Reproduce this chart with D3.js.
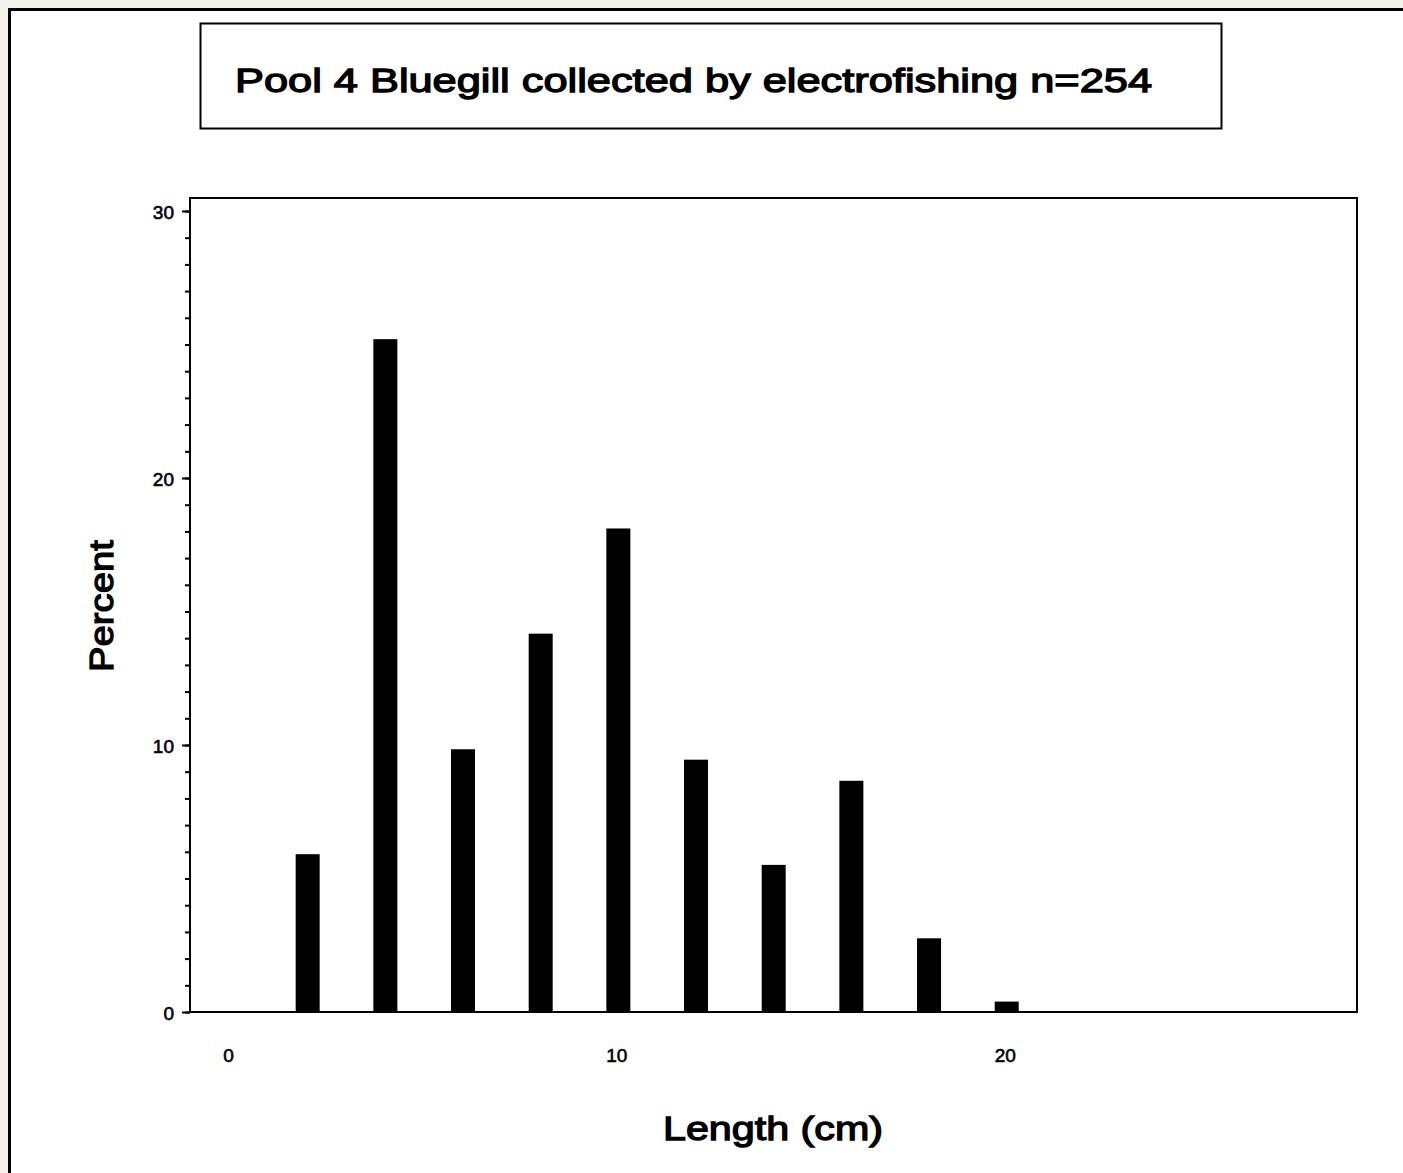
<!DOCTYPE html>
<html>
<head>
<meta charset="utf-8">
<script src="https://cdn.jsdelivr.net/npm/d3@7"></script>
<style>
  html, body { margin: 0; padding: 0; background: #f5f1eb; }
  svg { display: block; }
  text { font-family: "Liberation Sans", Arial, sans-serif; fill: #000; }
</style>
</head>
<body>
<script>
// Length-frequency of bluegill (percent of n=254) by 2-cm class midpoint
const lengthClasses = [2, 4, 6, 8, 10, 12, 14, 16, 18, 20];
const percentValues = [5.91, 25.20, 9.84, 14.17, 18.11, 9.45, 5.51, 8.66, 2.76, 0.39];
const xTickValues = [0, 10, 20];
const yTickValues = [0, 10, 20, 30];
const titleText = "Pool 4 Bluegill collected by electrofishing n=254";
const xLabel = "Length (cm)";
const yLabel = "Percent";

const W = 1403, H = 1173;
const svg = d3.select("body").append("svg").attr("width", W).attr("height", H);

// page frame
svg.append("rect").attr("x", 0).attr("y", 0).attr("width", W).attr("height", H).attr("fill", "#f5f1eb");
svg.append("rect").attr("x", 9.5).attr("y", 9.5).attr("width", W + 10).attr("height", H + 10)
  .attr("fill", "#fff").attr("stroke", "#000").attr("stroke-width", 3);

// heavy-ish text style: regular face thickened with a thin outline
const heavy = (sel, w) => sel.attr("stroke", "#000").attr("stroke-width", w).attr("paint-order", "stroke");

// title box
svg.append("rect").attr("x", 200.5).attr("y", 23.5).attr("width", 1021).attr("height", 105)
  .attr("fill", "none").attr("stroke", "#000").attr("stroke-width", 2);
svg.append("text").attr("x", 235).attr("y", 92)
  .attr("font-size", 34).attr("font-weight", "normal")
  .attr("textLength", 917).attr("lengthAdjust", "spacingAndGlyphs")
  .text(titleText)
  .call(heavy, 1.3);

// plot area
const plot = { left: 190, top: 198, right: 1357, bottom: 1012 };
const x = d3.scaleLinear().domain([-1.03, 29.02]).range([plot.left, plot.right]);
const y = d3.scaleLinear().domain([0, 30]).range([plot.bottom, 211]);

svg.append("rect").attr("x", plot.left).attr("y", plot.top)
  .attr("width", plot.right - plot.left).attr("height", plot.bottom - plot.top)
  .attr("fill", "none").attr("stroke", "#000").attr("stroke-width", 2);

// bars
const barW = 24;
svg.append("g").selectAll("rect").data(lengthClasses).join("rect")
  .attr("x", (d) => x(d) - barW / 2)
  .attr("y", (d, i) => y(percentValues[i]))
  .attr("width", barW)
  .attr("height", (d, i) => y(0) - y(percentValues[i]))
  .attr("fill", "#000");

// y axis: minor ticks every 1, major every 10
const yMinor = d3.axisLeft(y).tickValues(d3.range(0, 31)).tickSize(5).tickFormat("");
const gMinor = svg.append("g").attr("transform", `translate(${plot.left},0)`).call(yMinor);
gMinor.select(".domain").remove();
gMinor.selectAll("line").attr("stroke", "#000").attr("stroke-width", 2);

const yMajor = d3.axisLeft(y).tickValues(yTickValues).tickSize(8).tickPadding(8).tickFormat(d3.format("d"));
const gMajor = svg.append("g").attr("transform", `translate(${plot.left},0)`).call(yMajor);
gMajor.select(".domain").remove();
gMajor.selectAll("line").attr("stroke", "#000").attr("stroke-width", 2);
gMajor.selectAll("text").attr("font-size", 19).attr("font-family", "Liberation Sans, Arial, sans-serif")
  .attr("dy", "0.4em").attr("fill", "#000").call(heavy, 0.6);

// x axis labels only
const xAxis = d3.axisBottom(x).tickValues(xTickValues).tickSize(0).tickPadding(37).tickFormat(d3.format("d"));
const gx = svg.append("g").attr("transform", `translate(0,${plot.bottom})`).call(xAxis);
gx.select(".domain").remove();
gx.selectAll("text").attr("font-size", 19).attr("font-family", "Liberation Sans, Arial, sans-serif")
  .attr("fill", "#000").attr("dx", "-2").call(heavy, 0.6);

// axis titles
svg.append("text").attr("x", 773).attr("y", 1140).attr("text-anchor", "middle")
  .attr("font-size", 34).attr("font-weight", "normal")
  .attr("textLength", 220).attr("lengthAdjust", "spacingAndGlyphs")
  .text(xLabel).call(heavy, 1.3);
svg.append("text").attr("transform", "translate(113,606) rotate(-90)").attr("text-anchor", "middle")
  .attr("font-size", 34).attr("font-weight", "normal")
  .attr("textLength", 132).attr("lengthAdjust", "spacingAndGlyphs")
  .text(yLabel).call(heavy, 1.3);
</script>
</body>
</html>
